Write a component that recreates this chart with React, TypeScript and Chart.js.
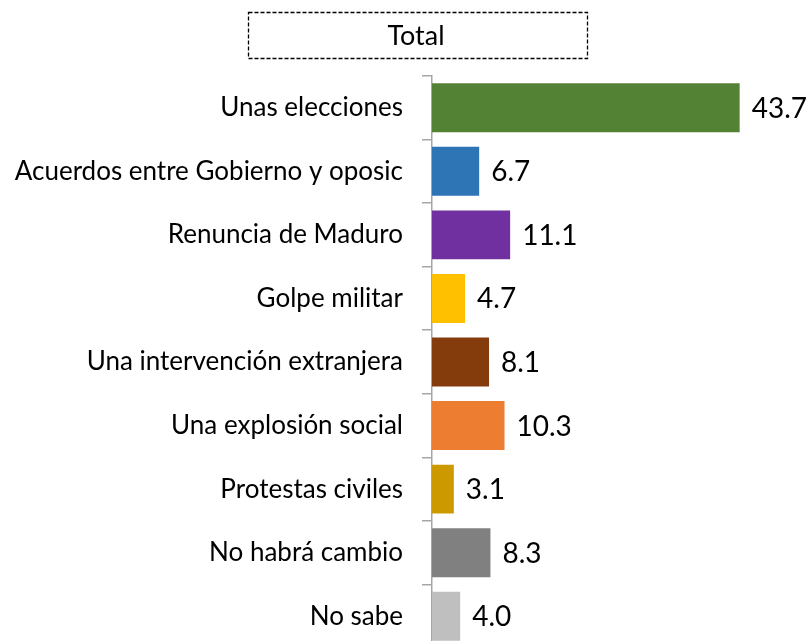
import React, { useEffect, useRef } from "react";
import { Chart, registerables } from "chart.js";

Chart.register(...registerables);

const categories = [
  "Unas elecciones",
  "Acuerdos entre Gobierno y oposic",
  "Renuncia de Maduro",
  "Golpe militar",
  "Una intervención extranjera",
  "Una explosión social",
  "Protestas civiles",
  "No habrá cambio",
  "No sabe",
];
const values = [43.7, 6.7, 11.1, 4.7, 8.1, 10.3, 3.1, 8.3, 4.0];
const barColors = [
  "#548235",
  "#2E75B6",
  "#7030A0",
  "#FFC000",
  "#843C0C",
  "#ED7D31",
  "#CC9900",
  "#808080",
  "#BFBFBF",
];
const title = "Total";

const FONT = "Lato";
const CANVAS_H = 700;

export default function App() {
  const ref = useRef<HTMLCanvasElement | null>(null);
  useEffect(() => {
    const canvas = ref.current!;
    const valueLabels = {
      id: "valueLabels",
      afterDatasetsDraw(chart: any) {
        const ctx = chart.ctx;
        const meta = chart.getDatasetMeta(0);
        ctx.save();
        ctx.font = `28px ${FONT}`;
        ctx.fillStyle = "#000";
        ctx.textAlign = "left";
        ctx.textBaseline = "middle";
        meta.data.forEach((bar: any, i: number) => {
          ctx.fillText(values[i].toFixed(1), bar.x + 12, bar.y + 1);
        });
        ctx.restore();
      },
    };
    const titleBox = {
      id: "titleBox",
      afterDraw(chart: any) {
        const ctx = chart.ctx;
        ctx.save();
        ctx.strokeStyle = "#000";
        ctx.lineWidth = 1.3;
        ctx.setLineDash([4, 2]);
        ctx.strokeRect(248.5, 12.5, 339, 46);
        ctx.setLineDash([]);
        ctx.font = `27px ${FONT}`;
        ctx.fillStyle = "#000";
        ctx.textAlign = "center";
        ctx.textBaseline = "middle";
        ctx.fillText(title, 416, 36);
        ctx.restore();
      },
    };
    const chart = new Chart(canvas, {
      type: "bar",
      data: {
        labels: categories,
        datasets: [
          {
            data: values,
            backgroundColor: barColors,
            borderWidth: 0,
            barPercentage: 0.77,
            categoryPercentage: 1,
          },
        ],
      },
      options: {
        indexAxis: "y",
        responsive: false,
        maintainAspectRatio: false,
        animation: false,
        layout: { padding: { top: 76, bottom: CANVAS_H - 648, left: 0, right: 27 } },
        plugins: {
          legend: { display: false },
          tooltip: { enabled: false },
          title: { display: false },
        },
        scales: {
          x: {
            display: false,
            min: 0,
            max: 50,
          },
          y: {
            afterFit(scale: any) {
              scale.width = 432;
            },
            grid: {
              drawOnChartArea: false,
              drawTicks: true,
              tickLength: 10,
              color: "#A6A6A6",
              lineWidth: 1.5,
              offset: true,
            },
            border: { display: true, color: "#A6A6A6", width: 1.5 },
            ticks: {
              color: "#000",
              padding: 19,
              font: { family: FONT, size: 26 },
              autoSkip: false,
            },
          },
        },
      },
      plugins: [valueLabels, titleBox],
    });
    return () => chart.destroy();
  }, []);
  return (
    <div
      style={{
        position: "fixed",
        left: 0,
        top: 0,
        width: 811,
        height: 641,
        overflow: "hidden",
        background: "#fff",
      }}
    >
      <canvas
        ref={ref}
        width={811}
        height={CANVAS_H}
        style={{ width: 811, height: CANVAS_H, display: "block" }}
      />
    </div>
  );
}
